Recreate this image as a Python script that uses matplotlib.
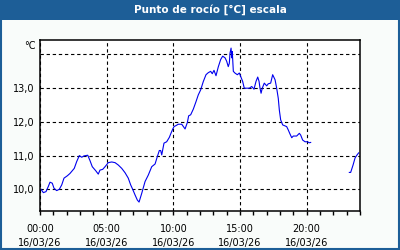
import numpy as np
import matplotlib
matplotlib.use('Agg')
import matplotlib.pyplot as plt
from matplotlib.patches import Rectangle
from matplotlib.ticker import FixedLocator, MultipleLocator

# ── data (hours since 00:00, dew point in °C) ────────────────────────────────
hours = [0.08, 0.25, 0.45, 0.62, 0.75, 0.92, 1.05, 1.25, 1.45, 1.63, 1.8, 2.05,
         2.25, 2.42, 2.57, 2.75, 2.95, 3.13, 3.3, 3.58, 3.75, 3.92, 4.18, 4.37,
         4.5, 4.7, 4.88, 5.12, 5.38, 5.63, 5.87, 6.13, 6.38, 6.62, 6.8, 6.95,
         7.13, 7.3, 7.43, 7.63, 7.88, 8.12, 8.38, 8.63, 8.8, 8.95, 9.05, 9.13,
         9.3, 9.5, 9.7, 9.8, 9.95, 10.05, 10.2, 10.37, 10.63, 10.75, 10.88,
         11.05, 11.15, 11.3, 11.5, 11.7, 11.87, 12.05, 12.25, 12.45, 12.62,
         12.8, 12.92, 13.05, 13.2, 13.37, 13.55, 13.7, 13.88, 14.0, 14.12,
         14.2, 14.25, 14.33, 14.38, 14.42, 14.5, 14.62, 14.8, 14.95, 15.05,
         15.2, 15.32, 15.5, 15.7, 15.88, 16.05, 16.2, 16.33, 16.43, 16.5,
         16.58, 16.67, 16.82, 17.0, 17.12, 17.3, 17.45, 17.63, 17.75, 17.87,
         17.95, 18.05, 18.2, 18.38, 18.5, 18.62, 18.75, 18.88, 19.0, 19.25,
         19.45, 19.55, 19.7, 19.88, 20.05, 20.2, 20.3,
         21.7,
         23.2, 23.3, 23.48, 23.63, 23.78, 23.9]
dew = [10.0, 9.9, 9.93, 10.08, 10.21, 10.18, 10.03, 9.96, 10.0, 10.13, 10.33, 10.4,
       10.47, 10.55, 10.62, 10.82, 11.0, 10.95, 10.99, 11.01, 10.85, 10.67, 10.55, 10.45,
       10.57, 10.59, 10.67, 10.79, 10.81, 10.79, 10.72, 10.62, 10.49, 10.33, 10.13, 10.0,
       9.83, 9.68, 9.62, 9.88, 10.23, 10.42, 10.67, 10.75, 10.97, 11.15, 11.15, 11.02,
       11.37, 11.41, 11.54, 11.64, 11.78, 11.86, 11.89, 11.93, 11.93, 11.86, 11.79,
       11.98, 12.18, 12.21, 12.38, 12.6, 12.8, 12.95, 13.2, 13.4, 13.46,
       13.5, 13.43, 13.53, 13.37, 13.63, 13.85, 13.95, 13.9, 13.8, 13.64,
       13.74, 14.04, 14.19, 13.9, 14.09, 13.5, 13.45, 13.4, 13.45, 13.35,
       13.2, 13.0, 13.0, 13.0, 13.05, 12.97, 13.2, 13.33, 13.2, 13.0,
       12.85, 13.0, 13.15, 13.07, 13.13, 13.15, 13.4, 13.25, 13.0, 12.7,
       12.35, 12.06, 11.91, 11.88, 11.86, 11.76, 11.64, 11.53, 11.58, 11.58,
       11.66, 11.61, 11.46, 11.41, 11.41, 11.38, 11.39,
       np.nan,
       10.5, 10.5, 10.72, 10.93, 11.02, 11.08]

x_ticks = [0, 5, 10, 15, 20]
x_labels = ['00:00\n16/03/26', '05:00\n16/03/26', '10:00\n16/03/26',
            '15:00\n16/03/26', '20:00\n16/03/26']
y_ticks = [10, 11, 12, 13, 14]
y_labels = ['10,0', '11,0', '12,0', '13,0', '']

# ── style ─────────────────────────────────────────────────────────────────────
plt.rcParams.update({
    'font.family': 'DejaVu Sans',
    'font.size':   7,
})
BAR_BLUE = '#1d5e97'
BG = '#f9fcfa'

fig = plt.figure(figsize=(4.0, 2.5), dpi=100, facecolor=BG)

# title bar + frame
fig.patches.append(Rectangle((0, 1 - 20 / 250), 1, 20 / 250, transform=fig.transFigure,
                             facecolor=BAR_BLUE, edgecolor='none', zorder=0))
fig.patches.append(Rectangle((0.002, 0.004), 0.996, 0.99, transform=fig.transFigure,
                             facecolor='none', edgecolor=BAR_BLUE, linewidth=1.5, zorder=1))
fig.text(210 / 400, 1 - 10 / 250, 'Punto de rocío [°C] escala', color='white',
         fontsize=7.5, fontweight='bold', ha='center', va='center')

ax = fig.add_axes([40 / 400, 1 - 211 / 250, 320 / 400, 171 / 250])
ax.set_facecolor('white')
ax.plot(hours, dew, color='#0000ee', linewidth=0.8)

ax.set_xlim(0, 24)
ax.set_ylim(9.355, 14.43)

ax.xaxis.set_major_locator(FixedLocator(x_ticks))
ax.xaxis.set_minor_locator(MultipleLocator(1))
ax.set_xticklabels(x_labels, linespacing=1.6)
ax.set_yticks(y_ticks)
ax.set_yticklabels(y_labels)

ax.tick_params(axis='x', which='both', direction='out', length=3, width=1,
               pad=6, colors='black')
ax.tick_params(axis='y', length=0, pad=4)

ax.grid(True, which='major', color='black', linestyle=(0, (3, 2.5)), linewidth=0.8)
for s in ax.spines.values():
    s.set_linewidth(1.1)
    s.set_color('black')

fig.text(36 / 400, 1 - 46 / 250, '°C', ha='right', va='center', fontsize=7)

fig.savefig('out.png', dpi=100, facecolor=BG)
